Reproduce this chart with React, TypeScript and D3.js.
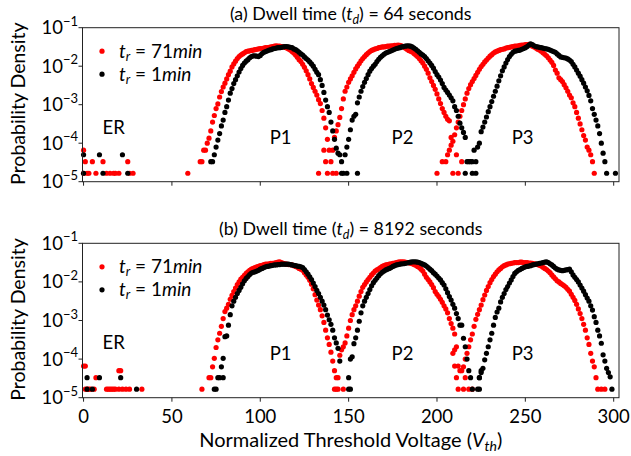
import React from 'react'
import * as d3 from 'd3'

type Seg = { start: number; logs: number[] }
type Pt = [number, number]

// values are log10(probability density), one point per Vth bin

// (a) dwell time 64 s, t_r = 71 min
const aRedSparse: Pt[] = [[0, -4.18], [0, -4.78], [1, -4.48], [2, -4.78], [3, -4.78], [5, -4.48], [7, -4.78], [11, -4.48], [13, -4.78], [15, -4.78], [17, -4.78], [18, -4.78], [20, -4.78], [25, -4.48], [26, -4.78], [28, -4.78], [59, -4.78], [133, -4.78], [136, -4.18], [137, -4.48], [138, -4.78], [141, -4.18], [143, -4.78], [200, -4.78], [203, -4.48], [208, -3.85], [209, -4.78], [211, -4.3], [212, -4.78], [214, -4.48]]
const aRedPeaks: Seg[] = [
  { start: 66, logs: [-4.48, -4.48, -4.18, -4.18, -4.0, -3.87, -3.68, -3.45, -3.28, -3.1, -2.98, -2.8, -2.66, -2.54, -2.44, -2.33, -2.22, -2.13, -2.02, -1.94, -1.87, -1.8, -1.75, -1.71, -1.68, -1.65, -1.62, -1.61, -1.6, -1.59, -1.58, -1.57, -1.56, -1.55, -1.54, -1.54, -1.53, -1.52, -1.52, -1.51, -1.5, -1.49, -1.48, -1.47, -1.48, -1.48, -1.49, -1.5, -1.51, -1.53, -1.55, -1.58, -1.62, -1.66, -1.71, -1.77, -1.83, -1.88, -1.95, -2.03, -2.12, -2.22, -2.33, -2.45, -2.55, -2.65, -2.75, -2.87, -2.97, -3.15, -3.35, -3.6, -3.9, -4.18, -4.48, -4.78] },
  { start: 142, logs: [-3.85, -3.68, -3.52, -3.33, -3.1, -2.85, -2.65, -2.54, -2.42, -2.33, -2.25, -2.16, -2.07, -2.0, -1.93, -1.86, -1.8, -1.75, -1.7, -1.66, -1.62, -1.59, -1.57, -1.55, -1.54, -1.52, -1.51, -1.5, -1.5, -1.49, -1.48, -1.48, -1.47, -1.47, -1.46, -1.46, -1.45, -1.46, -1.47, -1.5, -1.53, -1.56, -1.59, -1.61, -1.63, -1.67, -1.71, -1.75, -1.8, -1.86, -1.92, -2.0, -2.08, -2.18, -2.3, -2.4, -2.5, -2.6, -2.72, -2.85, -2.97, -3.1, -3.2, -3.3, -3.38, -3.42] },
  { start: 205, logs: [-4.48, -4.3, -4.18, -4.05, -3.95, -3.78, -3.6, -3.45, -3.3, -3.15, -3.0, -2.85, -2.7, -2.58, -2.48, -2.4, -2.32, -2.24, -2.16, -2.08, -2.01, -1.95, -1.89, -1.84, -1.79, -1.74, -1.7, -1.66, -1.63, -1.61, -1.59, -1.57, -1.56, -1.55, -1.53, -1.52, -1.51, -1.5, -1.49, -1.48, -1.48, -1.47, -1.46, -1.45, -1.45, -1.44, -1.44, -1.43, -1.45, -1.48, -1.5, -1.53, -1.56, -1.58, -1.61, -1.65, -1.69, -1.73, -1.78, -1.84, -1.9, -1.98, -2.1, -2.18, -2.3, -2.35, -2.4, -2.48, -2.56, -2.65, -2.75, -2.82, -2.95, -3.05, -3.2, -3.35, -3.5, -3.65, -3.8, -3.92, -4.1, -4.18, -4.3, -4.48, -4.78] },
]

// (a) dwell time 64 s, t_r = 1 min
const aBlackSparse: Pt[] = [[0, -4.3], [0, -4.78], [9, -4.3], [11, -4.78], [22, -4.3], [25, -4.78], [146, -4.78], [149, -4.78], [155, -4.78], [216, -4.78], [217, -4.48], [218, -4.48], [219, -4.48], [220, -4.48], [220, -4.78], [221, -4.18], [222, -4.48], [222, -4.78], [301, -4.78]]
const aBlackPeaks: Seg[] = [
  { start: 72, logs: [-4.48, -4.48, -4.3, -4.1, -3.92, -3.75, -3.55, -3.4, -3.2, -3.05, -2.88, -2.7, -2.58, -2.45, -2.35, -2.25, -2.15, -2.06, -1.98, -1.92, -1.87, -1.83, -1.78, -1.75, -1.73, -1.73, -1.74, -1.75, -1.72, -1.67, -1.64, -1.62, -1.6, -1.58, -1.57, -1.55, -1.54, -1.53, -1.52, -1.52, -1.51, -1.5, -1.49, -1.49, -1.5, -1.51, -1.52, -1.55, -1.57, -1.6, -1.64, -1.68, -1.71, -1.76, -1.8, -1.84, -1.89, -1.94, -2.0, -2.08, -2.16, -2.22, -2.35, -2.5, -2.68, -2.88, -3.05, -3.2, -3.45, -3.68, -3.9, -4.13, -4.26, -4.3, -4.48, -4.78] },
  { start: 148, logs: [-4.3, -4.1, -3.9, -3.65, -3.4, -3.3, -3.25, -2.95, -2.8, -2.65, -2.53, -2.42, -2.32, -2.22, -2.13, -2.06, -2.0, -1.95, -1.88, -1.82, -1.77, -1.73, -1.69, -1.66, -1.64, -1.62, -1.6, -1.58, -1.56, -1.54, -1.53, -1.52, -1.5, -1.49, -1.48, -1.47, -1.47, -1.48, -1.5, -1.53, -1.56, -1.6, -1.64, -1.68, -1.71, -1.75, -1.8, -1.86, -1.92, -1.98, -2.05, -2.14, -2.22, -2.28, -2.36, -2.45, -2.55, -2.62, -2.68, -2.75, -2.82, -2.9, -3.05, -3.15, -3.3, -3.48, -3.6, -3.72, -3.85] },
  { start: 223, logs: [-4.1, -4.0, -3.7, -3.58, -3.45, -3.32, -3.18, -3.05, -2.92, -2.78, -2.65, -2.52, -2.38, -2.25, -2.12, -2.02, -1.92, -1.83, -1.75, -1.69, -1.64, -1.61, -1.6, -1.59, -1.58, -1.56, -1.54, -1.52, -1.49, -1.45, -1.42, -1.44, -1.47, -1.49, -1.5, -1.51, -1.52, -1.53, -1.54, -1.55, -1.56, -1.58, -1.6, -1.62, -1.64, -1.68, -1.72, -1.76, -1.77, -1.78, -1.79, -1.81, -1.84, -1.88, -1.95, -2.02, -2.1, -2.18, -2.26, -2.35, -2.44, -2.54, -2.64, -2.76, -2.9, -3.1, -3.25, -3.4, -3.55, -3.75, -4.0, -4.26, -4.48, -4.78] },
]

// (b) dwell time 8192 s, t_r = 71 min
const bRedSparse: Pt[] = [[0, -4.18], [1, -4.18], [1, -4.78], [2, -4.78], [3, -4.78], [4, -4.78], [6, -4.78], [7, -4.48], [13, -4.78], [14, -4.78], [15, -4.78], [16, -4.78], [17, -4.78], [18, -4.78], [20, -4.3], [21, -4.3], [20, -4.78], [22, -4.78], [24, -4.78], [26, -4.78], [33, -4.78], [67, -4.78], [142, -4.78], [143, -4.78], [144, -4.48], [144, -4.78], [147, -4.78], [209, -3.85], [210, -3.76], [210, -4.18], [211, -4.48], [212, -4.18], [212, -4.78], [213, -4.3], [215, -4.78], [216, -4.48], [218, -4.78], [220, -4.78], [293, -4.78], [295, -4.78]]
const bRedPeaks: Seg[] = [
  { start: 71, logs: [-4.48, -4.48, -4.2, -3.98, -3.7, -3.5, -3.33, -3.15, -2.95, -2.77, -2.68, -2.58, -2.45, -2.35, -2.25, -2.16, -2.07, -2.0, -1.93, -1.88, -1.83, -1.78, -1.74, -1.7, -1.67, -1.65, -1.63, -1.61, -1.6, -1.58, -1.57, -1.55, -1.54, -1.54, -1.53, -1.52, -1.52, -1.51, -1.5, -1.49, -1.48, -1.5, -1.52, -1.53, -1.54, -1.55, -1.55, -1.56, -1.58, -1.6, -1.62, -1.65, -1.67, -1.7, -1.76, -1.82, -1.88, -1.96, -2.06, -2.18, -2.33, -2.47, -2.6, -2.72, -2.88, -3.05, -3.25, -3.45, -3.62, -3.82, -4.05, -4.3, -4.48] },
  { start: 145, logs: [-3.9, -3.76, -3.68, -3.58, -3.4, -3.2, -3.0, -2.85, -2.72, -2.62, -2.5, -2.37, -2.25, -2.14, -2.07, -2.0, -1.94, -1.88, -1.82, -1.77, -1.72, -1.69, -1.66, -1.63, -1.6, -1.58, -1.56, -1.55, -1.54, -1.53, -1.52, -1.51, -1.5, -1.49, -1.48, -1.48, -1.48, -1.49, -1.5, -1.5, -1.52, -1.53, -1.55, -1.57, -1.6, -1.63, -1.67, -1.72, -1.8, -1.88, -1.94, -2.0, -2.07, -2.15, -2.25, -2.32, -2.38, -2.45, -2.53, -2.62, -2.7, -2.8, -2.95, -3.08, -3.2, -3.35, -3.68] },
  { start: 214, logs: [-4.3, -4.2, -4.0, -3.85, -3.68, -3.5, -3.35, -3.15, -2.97, -2.84, -2.72, -2.6, -2.46, -2.34, -2.22, -2.12, -2.02, -1.94, -1.86, -1.8, -1.74, -1.69, -1.65, -1.61, -1.58, -1.56, -1.54, -1.53, -1.52, -1.51, -1.5, -1.5, -1.5, -1.49, -1.49, -1.5, -1.5, -1.5, -1.51, -1.51, -1.52, -1.53, -1.54, -1.55, -1.57, -1.59, -1.62, -1.65, -1.68, -1.72, -1.76, -1.82, -1.87, -1.92, -1.97, -2.0, -2.04, -2.07, -2.1, -2.14, -2.19, -2.24, -2.32, -2.4, -2.48, -2.58, -2.7, -2.82, -2.95, -3.1, -3.25, -3.45, -3.62, -3.85, -4.05, -4.2, -4.48, -4.78] },
]

// (b) dwell time 8192 s, t_r = 1 min
const bBlackSparse: Pt[] = [[2, -4.48], [2, -4.78], [5, -4.78], [9, -4.48], [21, -4.48], [30, -4.78], [79, -4.48], [150, -4.48], [150, -4.78], [151, -4.78], [217, -4.0], [218, -4.3], [219, -4.48], [220, -4.78], [224, -4.48], [224, -4.78], [225, -4.3]]
const bBlackPeaks: Seg[] = [
  { start: 74, logs: [-4.78, -4.78, -4.48, -4.48, -4.2, -3.98, -3.42, -3.4, -3.12, -2.85, -2.62, -2.5, -2.4, -2.3, -2.22, -2.14, -2.05, -1.97, -1.91, -1.86, -1.81, -1.77, -1.75, -1.74, -1.72, -1.7, -1.67, -1.65, -1.63, -1.61, -1.6, -1.59, -1.58, -1.57, -1.56, -1.56, -1.55, -1.55, -1.54, -1.54, -1.54, -1.54, -1.54, -1.55, -1.56, -1.57, -1.58, -1.59, -1.6, -1.61, -1.63, -1.68, -1.74, -1.8, -1.87, -1.94, -2.03, -2.12, -2.22, -2.3, -2.4, -2.5, -2.6, -2.72, -2.86, -2.98, -3.1, -3.25, -3.45, -3.58, -3.72, -4.05] },
  { start: 151, logs: [-4.0, -3.94, -3.6, -3.45, -3.25, -3.02, -2.8, -2.62, -2.5, -2.4, -2.3, -2.2, -2.1, -2.02, -1.96, -1.9, -1.84, -1.79, -1.75, -1.72, -1.69, -1.67, -1.65, -1.63, -1.6, -1.58, -1.56, -1.55, -1.54, -1.53, -1.53, -1.52, -1.51, -1.5, -1.49, -1.48, -1.48, -1.48, -1.49, -1.5, -1.52, -1.54, -1.56, -1.59, -1.63, -1.67, -1.71, -1.76, -1.8, -1.85, -1.9, -1.95, -2.02, -2.08, -2.18, -2.28, -2.38, -2.47, -2.58, -2.68, -2.82, -2.95, -3.12, -3.12, -3.46, -3.68] },
  { start: 223, logs: [-4.78, -4.48, -4.35, -4.24, -4.02, -3.85, -3.68, -3.5, -3.33, -3.12, -2.92, -2.78, -2.68, -2.52, -2.4, -2.3, -2.2, -2.12, -2.03, -1.95, -1.86, -1.78, -1.74, -1.7, -1.68, -1.65, -1.63, -1.61, -1.6, -1.59, -1.58, -1.56, -1.55, -1.54, -1.53, -1.52, -1.51, -1.5, -1.49, -1.48, -1.5, -1.53, -1.56, -1.6, -1.64, -1.67, -1.69, -1.7, -1.71, -1.7, -1.69, -1.68, -1.67, -1.74, -1.82, -1.88, -1.94, -2.0, -2.08, -2.16, -2.24, -2.33, -2.42, -2.5, -2.62, -2.73, -2.9, -3.05, -3.25, -3.4, -3.59, -3.89, -4.05, -4.24, -4.35, -4.46, -4.78] },
]

const xTicks = [0, 50, 100, 150, 200, 250, 300]
const yExps = [-5, -4, -3, -2, -1]
const regionLabels = [
  { text: 'ER', x: 17, log: -3.58 },
  { text: 'P1', x: 111.5, log: -3.86 },
  { text: 'P2', x: 180.5, log: -3.86 },
  { text: 'P3', x: 248.5, log: -3.86 },
]

const panels = [
  { tag: '(a)', dwell: '64', top: 27.7, bottom: 181.7, red: [aRedSparse, aRedPeaks], black: [aBlackSparse, aBlackPeaks], xLabels: false },
  { tag: '(b)', dwell: '8192', top: 243.3, bottom: 397.7, red: [bRedSparse, bRedPeaks], black: [bBlackSparse, bBlackPeaks], xLabels: true },
] as const

const FONT = 'Lato, "Open Sans", sans-serif'
const LEFT = 82.5
const RIGHT = 619

function toPoints(sparse: readonly Pt[], peaks: readonly Seg[]): Pt[] {
  const out: Pt[] = sparse.map(([x, l]) => [x, Math.pow(10, l)] as Pt)
  peaks.forEach(s => s.logs.forEach((l, i) => out.push([s.start + i, Math.pow(10, l)])))
  return out
}

const x = d3.scaleLinear().domain([-0.6, 303]).range([LEFT, RIGHT])

function Legend({ y, color, val }: { y: number; color: string; val: string }) {
  return (
    <g>
      <circle cx={102} cy={y} r={2.6} fill={color} />
      <text x={119} y={y + 6.5} fontSize={19} fontFamily={FONT}>
        <tspan fontStyle="italic">t</tspan>
        <tspan fontStyle="italic" fontSize={13} dy={3}>r</tspan>
        <tspan dy={-3}>{' = ' + val}</tspan>
        <tspan fontStyle="italic">min</tspan>
      </text>
    </g>
  )
}

function Panel({ p }: { p: (typeof panels)[number] }) {
  const y = d3.scaleLog().domain([1e-5, 1e-1]).range([p.bottom, p.top])
  const red = toPoints(p.red[0], p.red[1])
  const black = toPoints(p.black[0], p.black[1])
  const cx = (LEFT + RIGHT) / 2
  return (
    <g>
      <text x={cx} y={p.top - 8} textAnchor="middle" fontSize={17.8} fontFamily={FONT}>
        {p.tag + ' Dwell time ('}
        <tspan fontStyle="italic">t</tspan>
        <tspan fontStyle="italic" fontSize={12.5} dy={4}>d</tspan>
        <tspan dy={-4}>{') = ' + p.dwell + ' seconds'}</tspan>
      </text>
      {red.map((d, i) => (
        <circle key={'r' + i} cx={x(d[0])} cy={y(d[1])} r={2.6} fill="#ff0000" />
      ))}
      {black.map((d, i) => (
        <circle key={'k' + i} cx={x(d[0])} cy={y(d[1])} r={2.6} fill="#000" />
      ))}
      <rect x={LEFT} y={p.top} width={RIGHT - LEFT} height={p.bottom - p.top} fill="none" stroke="#222" strokeWidth={1} />
      {yExps.map(e => {
        const yy = y(Math.pow(10, e))
        return (
          <g key={e}>
            <line x1={LEFT - 4} x2={LEFT} y1={yy} y2={yy} stroke="#222" />
            <text x={78} y={yy + 6.5} textAnchor="end" fontSize={18.5} fontFamily={FONT}>
              10
              <tspan fontSize={13} dy={-8.5}>{'\u2212' + Math.abs(e)}</tspan>
            </text>
          </g>
        )
      })}
      {xTicks.map(t => (
        <g key={t}>
          <line x1={x(t)} x2={x(t)} y1={p.bottom} y2={p.bottom + 4} stroke="#222" />
          {p.xLabels && (
            <text x={x(t)} y={p.bottom + 25.5} textAnchor="middle" fontSize={18.5} fontFamily={FONT}>
              {t}
            </text>
          )}
        </g>
      ))}
      {regionLabels.map(l => (
        <text key={l.text} x={x(l.x)} y={y(Math.pow(10, l.log)) + 6.5} textAnchor="middle" fontSize={18.5} fontFamily={FONT}>
          {l.text}
        </text>
      ))}
      <Legend y={p.top + 23.5} color="#ff0000" val="71" />
      <Legend y={p.top + 46.5} color="#000" val="1" />
      <text
        transform={`translate(25,${(p.top + p.bottom) / 2 - 1}) rotate(-90)`}
        textAnchor="middle"
        fontSize={19.5}
        fontFamily={FONT}
      >
        Probability Density
      </text>
    </g>
  )
}

export default function App() {
  return (
    <svg width={631} height={456} style={{ position: 'absolute', left: 0, top: 0, background: '#fff' }}>
      {panels.map(p => (
        <Panel key={p.tag} p={p} />
      ))}
      <text x={(LEFT + RIGHT) / 2} y={447} textAnchor="middle" fontSize={20} fontFamily={FONT}>
        {'Normalized Threshold Voltage ('}
        <tspan fontStyle="italic">V</tspan>
        <tspan fontStyle="italic" fontSize={14} dy={4}>th</tspan>
        <tspan dy={-4}>)</tspan>
      </text>
    </svg>
  )
}
